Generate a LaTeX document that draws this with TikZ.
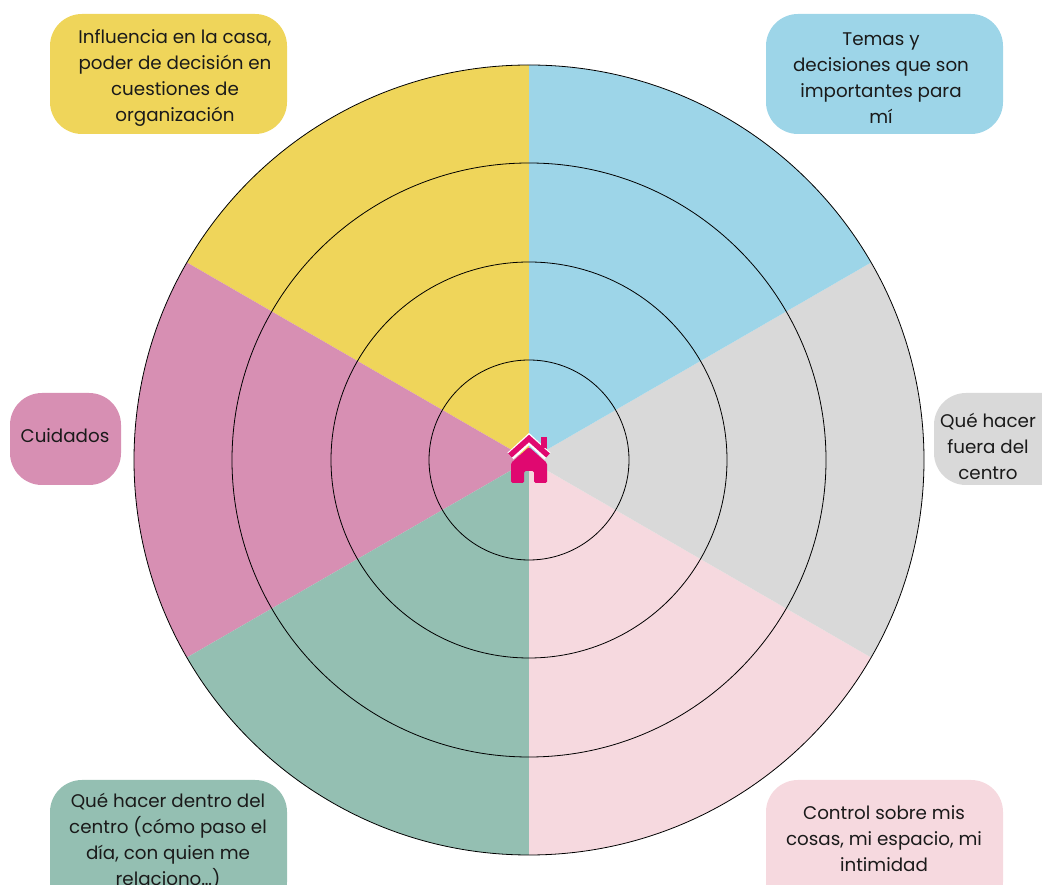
\documentclass[tikz,border=0pt]{standalone}
\usepackage{fontspec}
\setmainfont{Poppins}
\definecolor{cyel}{RGB}{239,213,90}
\definecolor{cblu}{RGB}{157,213,232}
\definecolor{cgry}{RGB}{217,217,217}
\definecolor{cpnk}{RGB}{246,217,223}
\definecolor{cgrn}{RGB}{148,191,178}
\definecolor{cmau}{RGB}{215,143,179}
\definecolor{cmag}{RGB}{224,8,112}
\definecolor{ctxt}{RGB}{26,26,26}
\begin{document}
\begin{tikzpicture}[x=1pt,y=1pt,
  lbl/.style={align=center,text=ctxt,font=\fontsize{18.3}{26}\selectfont},
  lbox/.style={rounded corners=32pt},
  ring/.style={draw=black,line width=0.8pt}]
\useasboundingbox (0,0) rectangle (1042,884);
\clip (0,0) rectangle (1042,884);
\coordinate (C) at (529,424);
% sectors
\fill[cyel] (C) -- ++(90:395) arc[start angle=90,end angle=150,radius=395] -- cycle;
\fill[cmau] (C) -- ++(150:395) arc[start angle=150,end angle=210,radius=395] -- cycle;
\fill[cgrn] (C) -- ++(210:395) arc[start angle=210,end angle=270,radius=395] -- cycle;
\fill[cpnk] (C) -- ++(270:395) arc[start angle=270,end angle=330,radius=395] -- cycle;
\fill[cgry] (C) -- ++(330:395) arc[start angle=330,end angle=390,radius=395] -- cycle;
\fill[cblu] (C) -- ++(30:395) arc[start angle=30,end angle=90,radius=395] -- cycle;
% rings
\draw[ring] (C) circle[radius=100];
\draw[ring] (C) circle[radius=198];
\draw[ring] (C) circle[radius=297];
\draw[ring] (C) circle[radius=395];
% label boxes
\fill[cyel,lbox] (50,750) rectangle (287,870);
\fill[cblu,lbox] (766,750) rectangle (1003,870);
\fill[cmau,lbox] (10,399) rectangle (121,491);
\fill[cgry,lbox] (934,399) rectangle (1080,491);
\fill[cgrn,lbox] (50,-30) rectangle (287,104);
\fill[cpnk,lbox] (766,-30) rectangle (1003,104);
\node[lbl] (tyel) at (175,806) {Influencia en la casa,\\poder de decisión en\\cuestiones de\\organización};
\node[lbl] (tblu) at (881,806) {Temas y\\decisiones que son\\importantes para\\mí};
\node[lbl] (tmau) at (65,448) {Cuidados};
\node[lbl] (tgry) at (988,438) {Qué hacer\\fuera del\\centro};
\node[lbl] (tgrn) at (168,43) {Qué hacer dentro del\\centro (cómo paso el\\día, con quien me\\relaciono…)};
\node[lbl] (tpnk) at (884,45) {Control sobre mis\\cosas, mi espacio, mi\\intimidad};
% house icon
\begin{scope}[shift={(529,424)},yscale=-1,shift={(-529,-460)}]
  \fill[cmag,rounded corners=1.5pt] (511,483) -- (511,463) -- (529,447) -- (547,463) -- (547,483) -- (534,483) -- (534,471) -- (524,471) -- (524,483) -- cycle;
  \fill[cmag] (541,437) rectangle (547,450);
  \draw[white,line width=9pt,line join=miter] (510.5,456) -- (529,439) -- (547.5,456);
  \fill[cmag] (541,437) rectangle (547,448);
  \draw[cmag,line width=5.5pt,line join=miter] (510,455.5) -- (529,438.5) -- (548,455.5);
\end{scope}
\end{tikzpicture}
\end{document}
